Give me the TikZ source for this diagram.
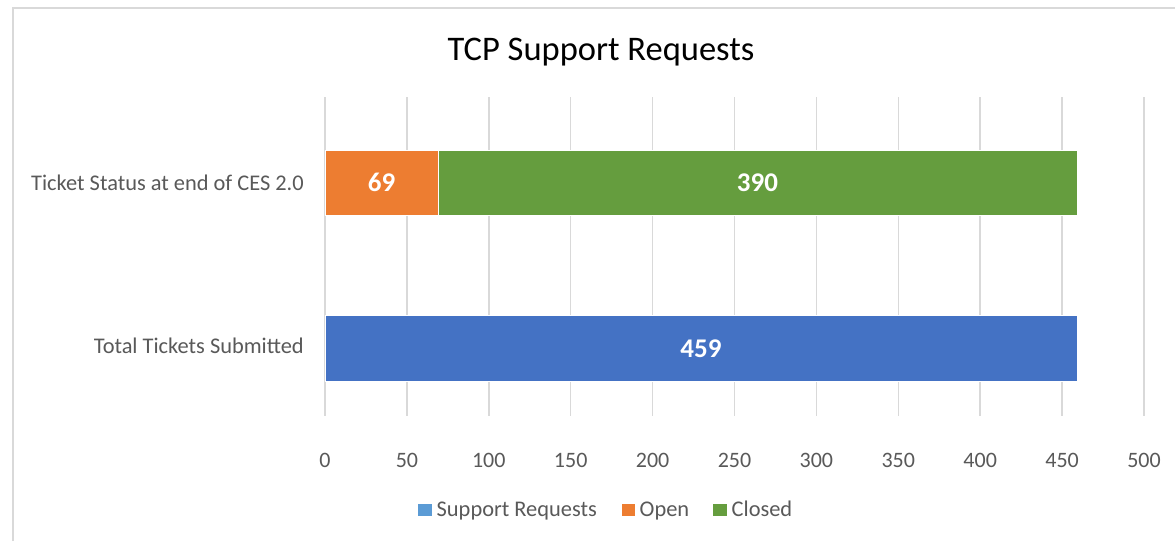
\documentclass[tikz,border=0pt]{standalone}
\usepackage{fontspec}
\setmainfont{Carlito}
\definecolor{gridc}{HTML}{D9D9D9}
\definecolor{txt}{HTML}{595959}
\definecolor{barblue}{HTML}{4472C4}
\definecolor{legblue}{HTML}{5B9BD5}
\definecolor{barorange}{HTML}{ED7D31}
\definecolor{bargreen}{HTML}{659D3E}
\begin{document}
\begin{tikzpicture}[x=1pt,y=-1pt,
  grid/.style={draw=gridc,line width=1.5pt},
  bar/.style={draw=white,line width=0.6pt},
  ticklab/.style={text=txt,font=\fontsize{22}{26}\selectfont,inner sep=0pt,anchor=base},
  catlab/.style={text=txt,font=\fontsize{22.4}{26}\selectfont,inner sep=0pt,anchor=base east},
  datalab/.style={text=white,font=\fontsize{27}{32}\selectfont\bfseries,inner sep=0pt,anchor=base},
  legtext/.style={text=txt,font=\fontsize{22.4}{26}\selectfont,inner sep=0pt,anchor=base west},
  legbox/.style={minimum width=13.5pt,minimum height=12pt,inner sep=0pt,draw=none}]
\useasboundingbox (0,0) rectangle (1175,541);
\fill[white] (0,0) rectangle (1175,541);
% frame
\draw[gridc,line width=2pt] (12.5,541) -- (12.5,7.5) -- (1175,7.5);
% title
\node[font=\fontsize{34.5}{40}\selectfont,text=black,inner sep=0pt,anchor=base] (title) at (601,60) {TCP Support Requests};
% gridlines and tick labels
\foreach \v in {0,50,...,500}{
  \pgfmathsetmacro{\xx}{325+1.638*\v}
  \draw[grid] (\xx,97) -- (\xx,416);
  \node[ticklab] (tick\v) at (\xx,467) {\v};
}
% bars
\fill[barorange] (325,150) rectangle (438,215);
\fill[bargreen] (438,150) rectangle (1077,215);
\fill[barblue] (325,315) rectangle (1077,381);
\draw[bar] (325,150) rectangle (438,215);
\draw[bar] (438,150) rectangle (1077,215);
\draw[bar] (325,315) rectangle (1077,381);
% data labels
\node[datalab] (l69) at (381.5,191.5) {69};
\node[datalab] (l390) at (757.5,191.5) {390};
\node[datalab] (l459) at (701,357.5) {459};
% category labels
\node[catlab] (cat1) at (304,190) {Ticket Status at end of CES 2.0};
\node[catlab] (cat2) at (304,353.5) {Total Tickets Submitted};
% legend
\node[legbox,fill=legblue] (lb1) at (425,510) {};
\node[legtext] (lt1) at (436.5,516.5) {Support Requests};
\node[legbox,fill=barorange] (lb2) at (628.5,510) {};
\node[legtext] (lt2) at (639.5,516.5) {Open};
\node[legbox,fill=bargreen] (lb3) at (720,510) {};
\node[legtext] (lt3) at (731.5,516.5) {Closed};
\end{tikzpicture}
\end{document}
